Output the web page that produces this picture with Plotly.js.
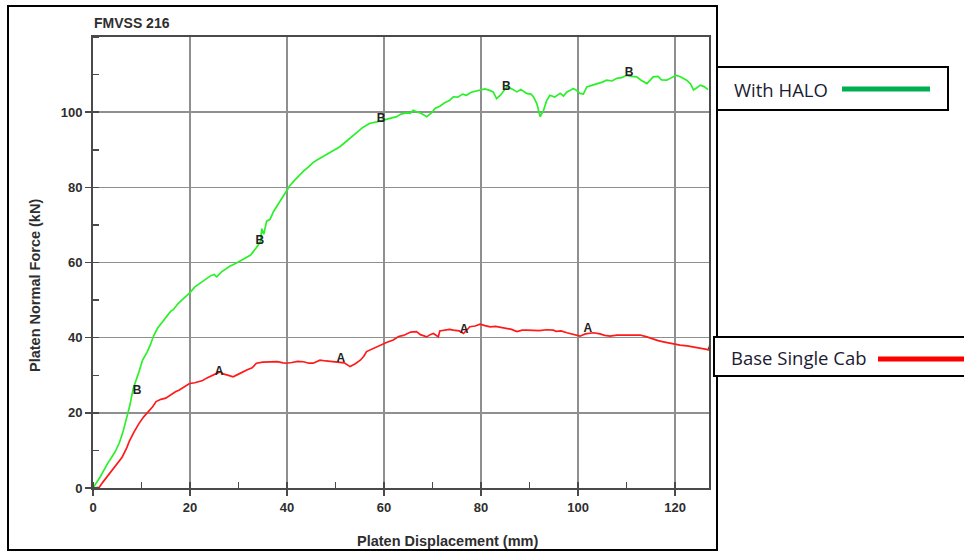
<!DOCTYPE html>
<html>
<head>
<meta charset="utf-8">
<script src="https://cdn.plot.ly/plotly-3.0.1.min.js"></script>
<style>html,body{margin:0;padding:0;background:#fff;}#chart{width:964px;height:552px;}</style>
</head>
<body>
<div id="chart"></div>
<script>
// ---- data ----
const haloX = [0,1.5,3,4.5,5.4,6.2,7.0,7.6,8.3,8.9,9.5,10.2,11.1,11.8,12.5,13.3,14.2,15.0,16.0,16.6,17.5,18.3,19.2,20.0,21.0,22.1,23.2,24.3,25.0,25.5,26.5,28.2,29.5,30.5,31.7,32.5,33.7,34.5,34.8,35.2,35.8,36.5,37.2,37.9,38.8,39.6,40.6,41.5,42.4,43.4,44.5,45.3,46.1,47.2,48.2,48.9,49.5,50.9,52,53,54.3,55.7,57,58.5,59.9,61,62.6,63.5,64.5,65.4,66,67,67.8,68.8,69.8,70.5,71.5,72.5,73.4,74.3,75.2,76.2,77,78,78.8,79.8,80.8,81.8,82.5,83.2,84,85.3,86.3,87.4,88.2,89.4,90.3,90.8,91.5,92.2,92.9,93.5,94.2,95.2,96.3,97,97.7,98.4,99,99.7,100.4,101.1,101.8,103,104,105,105.9,107,108,109,110,111,112.1,113,114.2,115,115.5,116.5,117.2,118.3,119.3,120.2,121,122.4,123.2,123.8,124.5,125.2,126,126.8];
const haloY = [0,3,6.5,9.5,11.9,15,19,22,26.5,28.5,31,34,36,38,40.5,42.5,44,45.5,47,47.5,49,50,51,52,53.5,54.5,55.5,56.5,56.8,56.2,57.5,59,59.8,60.5,61.5,62,64,65.5,69,67.5,71,71.5,73.5,75,77,78.5,80.5,81.8,83,84.3,85.5,86.5,87.2,88,88.7,89.3,89.8,90.8,92,93,94.5,96,97,97.4,97.9,98.2,98.8,99.5,99.8,99.7,100.5,100,99.6,98.8,99.8,101,101.6,102.5,103,104.1,104,104.8,104.5,105.3,105.5,105.9,106.2,105.8,105.4,103.6,104.5,106.7,106.2,105.4,106,105,104.8,104.1,102.3,98.8,100.5,103,104.5,104,105,104.3,105.4,105.8,106.3,105.8,105,104.8,106.7,107.2,107.5,108,108.5,108.3,109,109.2,109.8,109.5,109.4,108.5,107.6,108.6,109.4,109.5,108.6,108.5,109.2,109.8,109.5,108.5,107.5,105.9,106.5,107.2,106.8,106];

const baseX = [0,1.3,2,3,4.1,5,6,7,7.5,8.5,9.5,10.5,11.5,12.3,13,14,15,16,17,17.8,18.8,19.9,21,22,22.6,23.5,24.5,25.5,26.2,27,27.6,28.9,30,31,31.7,32.8,33.7,35,36.5,38,39.2,39.9,41,42.2,43.4,44.5,45.4,46.8,48,49.5,50.9,51.8,53,54,55.1,55.8,56.4,57.5,58.3,59.2,60.5,61.9,63,64,64.7,65.5,66.7,67.5,68.8,69.5,70.2,71,71.2,71.5,72.5,73.5,74.3,75.5,76.4,77.1,77.7,78.8,79.8,80.8,81.9,83,84,85.3,86.3,87.4,88.5,89.5,90.8,92,93.5,94.9,95.5,96.5,97.7,98.8,100.4,101.5,103.2,104.5,105.5,106.6,108,110,111.5,112.8,114.2,115.5,116.5,117.6,119,120,121,122.5,124,125.5,126.5,127];
const baseY = [0,0.2,1.5,3.2,4.8,6.3,8.2,10.8,12.5,15,17.2,19,20.5,21.6,23,23.6,23.9,24.8,25.6,26.1,27,27.8,28,28.3,28.6,29.3,29.8,30.5,30.9,30.3,30.1,29.6,30.3,31,31.4,32,33.2,33.5,33.6,33.6,33.3,33.2,33.4,33.7,33.6,33.2,33.2,34,33.8,33.6,33.6,33.3,32.3,33,34,35,36.3,37,37.4,38,38.7,39.4,40.3,40.6,41.1,41.5,41.6,40.8,40.2,40.8,41.1,40.4,40.2,41.8,42,42.2,42,41.8,41.1,42.2,42.9,43.1,43.6,43.2,42.9,43,42.7,42.4,42.2,41.6,42,42,42,41.9,42.1,42,41.7,41.8,41.3,40.9,40.4,41,41.3,41,40.6,40.4,40.7,40.7,40.8,40.7,40.2,39.6,39.2,38.9,38.5,38.2,38,37.8,37.5,37.1,36.9,36.7];

const markB_x = [9.1,34.4,59.4,85.2,110.5];
const markB_y = [25.8,65.7,98.1,106.6,110.4];
const markA_x = [26.0,51.1,76.5,102.0,127.6];
const markA_y = [30.9,34.3,42.0,42.3,37.8];

const xTicks = [0,20,40,60,80,100,120];
const yTicks = [0,20,40,60,80,100];
const chartTitle = 'FMVSS 216';
const xTitle = 'Platen Displacement (mm)';
const yTitle = 'Platen Normal Force (kN)';
const seriesNames = ['With HALO','Base Single Cab'];

// ---- layout helpers (pixel -> paper) ----
const L = 93, R = 709, T = 37, B = 488;
const W = R - L, H = B - T;
const px = v => (v - L) / W;
const py = v => (B - v) / H;

const FAM = 'Liberation Sans, Arial, sans-serif';
const tickFont = {family: FAM, size: 13, color: '#2e2e2e', weight: 'bold'};
const markFont = {family: FAM, size: 12, color: '#222', weight: 'bold'};

const traces = [
  {x: haloX, y: haloY, type: 'scatter', mode: 'lines', name: seriesNames[0],
   line: {color: '#2af02a', width: 1.7}},
  {x: baseX, y: baseY, type: 'scatter', mode: 'lines', name: seriesNames[1],
   line: {color: '#ff1a1a', width: 1.7}},
  {x: markB_x, y: markB_y, type: 'scatter', mode: 'text', text: markB_x.map(() => 'B'),
   textfont: markFont, textposition: 'middle center'},
  {x: markA_x, y: markA_y, type: 'scatter', mode: 'text', text: markA_x.map(() => 'A'),
   textfont: markFont, textposition: 'middle center'}
];

const axisCommon = {
  showgrid: true, gridcolor: '#8f8f8f', gridwidth: 1.6,
  showline: true, linecolor: '#4a4a4a', linewidth: 2, mirror: true,
  ticks: 'outside', ticklen: 6, tickcolor: '#4a4a4a', tickwidth: 1.5,
  tickfont: tickFont, zeroline: false, fixedrange: true,
  minor: {ticks: 'inside', ticklen: 6, tickcolor: '#4a4a4a', tickwidth: 1.5, dtick: 10, showgrid: false}
};

const layout = {
  width: 964, height: 552,
  margin: {l: L, r: 964 - R, t: T, b: 552 - B, pad: 0},
  paper_bgcolor: '#ffffff', plot_bgcolor: '#ffffff',
  showlegend: false, hovermode: false,
  title: {text: chartTitle, x: 94 / 964, xanchor: 'left', y: 1 - 23 / 552, yanchor: 'middle',
          font: {family: FAM, size: 14, color: '#2e2e2e', weight: 'bold'}},
  xaxis: Object.assign({}, axisCommon, {range: [0, 127], tickvals: xTicks, ticktext: xTicks.map(String)}),
  yaxis: Object.assign({}, axisCommon, {range: [0, 120], tickvals: yTicks, ticktext: yTicks.map(String)}),
  shapes: [
    // outer chart frame
    {type: 'rect', xref: 'paper', yref: 'paper', x0: px(8), x1: px(717), y0: py(550), y1: py(6),
     line: {color: '#000', width: 2}, fillcolor: 'rgba(0,0,0,0)'},
    // legend box 1
    {type: 'rect', xref: 'paper', yref: 'paper', x0: px(717), x1: px(948), y0: py(110), y1: py(67),
     line: {color: '#000', width: 2}, fillcolor: '#fff'},
    {type: 'line', xref: 'paper', yref: 'paper', x0: px(842), x1: px(930), y0: py(89), y1: py(89),
     line: {color: '#00B050', width: 5}},
    // legend box 2
    {type: 'rect', xref: 'paper', yref: 'paper', x0: px(714), x1: px(980), y0: py(376), y1: py(337),
     line: {color: '#000', width: 2}, fillcolor: '#fff'},
    {type: 'line', xref: 'paper', yref: 'paper', x0: px(878), x1: px(980), y0: py(359), y1: py(359),
     line: {color: '#FF0000', width: 5}}
  ],
  annotations: [
    {text: xTitle, xref: 'paper', yref: 'paper', x: px(447), y: py(541), xanchor: 'center', yanchor: 'middle',
     showarrow: false, font: {family: FAM, size: 14.5, color: '#2e2e2e', weight: 'bold'}},
    {text: yTitle, xref: 'paper', yref: 'paper', x: px(35), y: py(286), xanchor: 'center', yanchor: 'middle',
     textangle: -90, showarrow: false, font: {family: FAM, size: 14.5, color: '#2e2e2e', weight: 'bold'}},
    {text: seriesNames[0], xref: 'paper', yref: 'paper', x: px(732), y: py(89), xanchor: 'left', yanchor: 'middle',
     showarrow: false, font: {family: 'Open Sans, Noto Sans, sans-serif', size: 18.5, color: '#1b1b33'}},
    {text: seriesNames[1], xref: 'paper', yref: 'paper', x: px(729), y: py(358), xanchor: 'left', yanchor: 'middle',
     showarrow: false, font: {family: 'Open Sans, Noto Sans, sans-serif', size: 18.5, color: '#1b1b33'}}
  ]
};

Plotly.newPlot('chart', traces, layout, {displayModeBar: false, staticPlot: true});
</script>
</body>
</html>
